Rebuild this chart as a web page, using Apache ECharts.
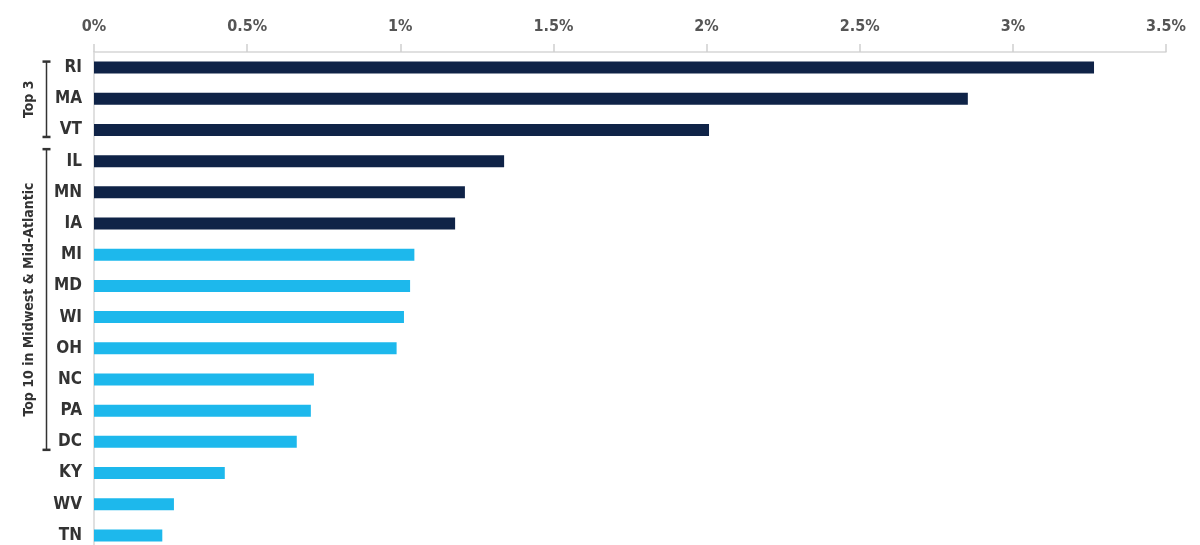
<!DOCTYPE html>
<html>
<head>
<meta charset="utf-8">
<script src="https://cdn.jsdelivr.net/npm/echarts@6/dist/echarts.min.js"></script>
<style>html,body{margin:0;padding:0;background:#fff;overflow:hidden}#c{width:1200px;height:552px}</style>
</head>
<body>
<div id="c"></div>
<script>
var states = ['RI','MA','VT','IL','MN','IA','MI','MD','WI','OH','NC','PA','DC','KY','WV','TN'];
var values = [3.265,2.853,2.008,1.339,1.211,1.179,1.046,1.032,1.012,0.988,0.718,0.708,0.662,0.427,0.261,0.223];
var xTicks = [0,0.5,1,1.5,2,2.5,3,3.5];
var darkCount = 6;
var groupLabels = ['Top 3','Top 10 in Midwest & Mid-Atlantic'];
var groupRanges = [['RI','VT'],['IL','DC']];

var FONT = '"DejaVu Sans","Liberation Sans",sans-serif';
var chart = echarts.init(document.getElementById('c'));
chart.setOption({
  animation:false,
  grid:{left:94,right:34,top:52,bottom:1,containLabel:false},
  xAxis:{
    type:'value',position:'top',min:xTicks[0],max:xTicks[xTicks.length-1],interval:0.5,
    axisLine:{show:true,lineStyle:{color:'#d6d6d6',width:1.5}},
    axisTick:{show:true,length:8,lineStyle:{color:'#d0d0d0',width:1.5}},
    splitLine:{show:false},
    axisLabel:{margin:17,color:'#555',fontFamily:FONT,fontStyle:'condensed',fontSize:16,fontWeight:'bold',formatter:function(v){return v+'%';}}
  },
  yAxis:{
    type:'category',inverse:true,data:states,
    axisLine:{show:true,lineStyle:{color:'#d6d6d6',width:1.5}},
    axisTick:{show:false},
    axisLabel:{margin:12,color:'#333',fontFamily:FONT,fontStyle:'condensed',fontSize:17,fontWeight:'bold'}
  },
  series:[{
    type:'bar',barWidth:12,
    data:values.map(function(v,i){return {value:v,itemStyle:{color:i<darkCount?'#0f2347':'#1db8ec'}};})
  }]
});

function drawBrackets(){
  var els=[];
  var offs=[[-6,7],[-12,8]];
  groupRanges.forEach(function(r,gi){
    var y1=chart.convertToPixel({yAxisIndex:0},r[0])+offs[gi][0];
    var y2=chart.convertToPixel({yAxisIndex:0},r[1])+offs[gi][1];
    var x=46.5;
    els.push({type:'line',shape:{x1:x,y1:y1,x2:x,y2:y2},style:{stroke:'#333',lineWidth:1.5},silent:true});
    els.push({type:'line',shape:{x1:x-4,y1:y1,x2:x+4,y2:y1},style:{stroke:'#333',lineWidth:2.5},silent:true});
    els.push({type:'line',shape:{x1:x-4,y1:y2,x2:x+4,y2:y2},style:{stroke:'#333',lineWidth:2.5},silent:true});
    els.push({type:'text',x:29,y:(y1+y2)/2,rotation:Math.PI/2,
      style:{text:groupLabels[gi],fill:'#333',font:'condensed bold 14px '+FONT,textAlign:'center',textVerticalAlign:'middle'},silent:true});
  });
  chart.setOption({graphic:els});
}
drawBrackets();
</script>
</body>
</html>
